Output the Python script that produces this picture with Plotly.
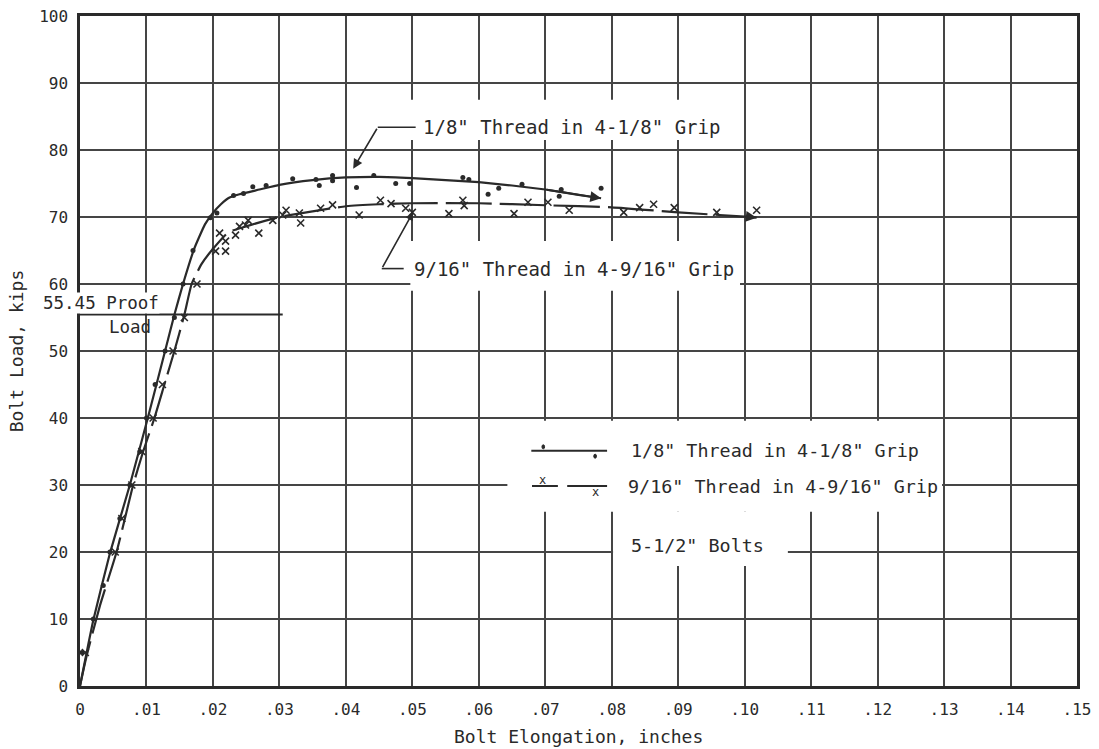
import plotly.graph_objects as go

# ---------------- data ----------------
# 1/8" Thread in 4-1/8" Grip : test points (dots)
s1_x = [0.0003, 0.002, 0.0035, 0.0045, 0.006, 0.0075, 0.009, 0.0100, 0.0113, 0.0128,
        0.0142, 0.0155, 0.0170, 0.0196, 0.0206, 0.0231, 0.0246, 0.0260, 0.0280, 0.0320,
        0.0355, 0.0360, 0.0380, 0.0380, 0.0416, 0.0442, 0.0475, 0.0496, 0.0576, 0.0585,
        0.0614, 0.0630, 0.0665, 0.0721, 0.0724, 0.0784]
s1_y = [5, 10, 15, 20, 25, 30, 35, 40, 45, 50,
        55, 60, 65, 69.9, 70.6, 73.2, 73.5, 74.5, 74.7, 75.7,
        75.6, 74.7, 76.2, 75.4, 74.4, 76.2, 75.0, 75.0, 75.9, 75.6,
        73.4, 74.3, 74.9, 73.1, 74.1, 74.3]
# faired curve
c1_x = [0, 0.001, 0.002, 0.0045, 0.0075, 0.0102, 0.0128, 0.0142, 0.0155, 0.0172,
        0.0188, 0.0200, 0.0212, 0.0225, 0.0240, 0.0270, 0.0300, 0.0350, 0.0400, 0.0450,
        0.0500, 0.0550, 0.0600, 0.0650, 0.0700, 0.0750, 0.0784]
c1_y = [0, 5, 9.8, 19.8, 30, 40, 50, 55.4, 60, 65.3,
        68.9, 70.6, 71.9, 72.9, 73.4, 74.1, 74.8, 75.5, 75.9, 76.0,
        75.8, 75.5, 75.2, 74.7, 74.1, 73.3, 72.8]

# 9/16" Thread in 4-9/16" Grip : test points (crosses)
s2_x = [0.0008, 0.0053, 0.0063, 0.0078, 0.0093, 0.0110, 0.0124, 0.0140, 0.0157, 0.0176,
        0.0204, 0.0219, 0.0210, 0.0219, 0.0234, 0.0240, 0.0249, 0.0253, 0.0269, 0.0290,
        0.0305, 0.0310, 0.0332, 0.0330, 0.0362, 0.0380, 0.0420, 0.0452, 0.0468, 0.0490,
        0.0500, 0.0555, 0.0576, 0.0578, 0.0653, 0.0674, 0.0704, 0.0736, 0.0818, 0.0842,
        0.0863, 0.0894, 0.0958, 0.1018]
s2_y = [5, 20, 25, 30, 35, 40, 45, 50, 55, 60,
        64.9, 64.9, 67.6, 66.4, 67.3, 68.6, 68.8, 69.5, 67.6, 69.5,
        70.3, 71.0, 69.1, 70.6, 71.3, 71.8, 70.3, 72.5, 72.0, 71.3,
        70.7, 70.5, 72.5, 71.7, 70.5, 72.2, 72.2, 71.0, 70.7, 71.4,
        71.9, 71.4, 70.7, 71.0]
# faired curve
c2_x = [0, 0.001, 0.003, 0.0055, 0.008, 0.0095, 0.0112, 0.0127, 0.0142, 0.0157,
        0.0168, 0.0183, 0.0198, 0.0223, 0.0250, 0.0300, 0.0350, 0.0400, 0.0450, 0.0500,
        0.0600, 0.0700, 0.0800, 0.0900, 0.1000, 0.1018]
c2_y = [0, 4.5, 12, 20, 30, 35, 40, 45, 50, 55.4,
        60, 63, 65, 67.7, 68.6, 70.0, 70.85, 71.6, 71.9, 72.05,
        72.05, 71.75, 71.45, 70.7, 70.05, 69.9]

proof_load = 55.45
proof_load_end = 0.0305

x_ticks = [i / 100 for i in range(16)]
x_ticklabels = ["0"] + ["." + f"{i:02d}" for i in range(1, 16)]
y_ticks = list(range(0, 101, 10))

label_1 = '1/8" Thread in 4-1/8" Grip'
label_2 = '9/16" Thread in 4-9/16" Grip'
bolts_label = '5-1/2" Bolts'
x_title = "Bolt Elongation, inches"
y_title = "Bolt Load, kips"

# ---------------- styling ----------------
INK = "#2a2a2a"
GRID = "#454545"
FONT = "DejaVu Sans Mono"

fig = go.Figure()

fig.add_trace(go.Scatter(x=c1_x, y=c1_y, mode="lines",
                         line=dict(color=INK, width=2.2, shape="spline", smoothing=0.4),
                         hoverinfo="skip", showlegend=False))
fig.add_trace(go.Scatter(x=s1_x, y=s1_y, mode="markers",
                         marker=dict(symbol="circle", size=5, color=INK),
                         showlegend=False))
fig.add_trace(go.Scatter(x=c2_x, y=c2_y, mode="lines",
                         line=dict(color=INK, width=2.2, dash="46px,8px", shape="spline", smoothing=0.5),
                         hoverinfo="skip", showlegend=False))
fig.add_trace(go.Scatter(x=s2_x, y=s2_y, mode="markers",
                         marker=dict(symbol="x-thin-open", size=7, color=INK,
                                     line=dict(color=INK, width=1.6)),
                         showlegend=False))

shapes = []
# white panels that interrupt the grid behind the labels
for x0, x1, y0, y1 in [(0.0475, 0.0995, 81.5, 87.5),
                       (0.0497, 0.0993, 59.0, 66.4),
                       (0.0643, 0.1297, 26.0, 39.6),
                       (0.0802, 0.1065, 17.9, 26.0)]:
    shapes.append(dict(type="rect", xref="x", yref="y", x0=x0, x1=x1, y0=y0, y1=y1,
                       fillcolor="white", line=dict(width=0), layer="between"))
# proof load line
shapes.append(dict(type="line", xref="x", yref="y", x0=0, x1=proof_load_end,
                   y0=proof_load, y1=proof_load, line=dict(color=INK, width=1.8)))
# leader elbows
shapes.append(dict(type="line", xref="x", yref="y", x0=0.0448, x1=0.0505, y0=83.4, y1=83.4,
                   line=dict(color=INK, width=1.6)))
shapes.append(dict(type="line", xref="x", yref="y", x0=0.0454, x1=0.0487, y0=62.3, y1=62.3,
                   line=dict(color=INK, width=1.6)))
# legend keys
shapes.append(dict(type="line", xref="x", yref="y", x0=0.0679, x1=0.0793, y0=35.1, y1=35.1,
                   line=dict(color=INK, width=2)))
shapes.append(dict(type="line", xref="x", yref="y", x0=0.0680, x1=0.0719, y0=29.85, y1=29.85,
                   line=dict(color=INK, width=2)))
shapes.append(dict(type="line", xref="x", yref="y", x0=0.0733, x1=0.0793, y0=29.85, y1=29.85,
                   line=dict(color=INK, width=2)))
for cx, cy in [(0.0697, 35.7), (0.0775, 34.3)]:
    shapes.append(dict(type="circle", xref="x", yref="y", x0=cx - 0.0002, x1=cx + 0.0002,
                       y0=cy - 0.3, y1=cy + 0.3, fillcolor=INK, line=dict(color=INK, width=1)))

annotations = []
# leader arrows
annotations.append(dict(x=0.0411, y=77.2, ax=0.0448, ay=83.4, xref="x", yref="y",
                        axref="x", ayref="y", showarrow=True, arrowhead=2, arrowsize=1.2,
                        arrowwidth=1.6, arrowcolor=INK, text=""))
annotations.append(dict(x=0.0501, y=70.7, ax=0.0454, ay=62.3, xref="x", yref="y",
                        axref="x", ayref="y", showarrow=True, arrowhead=2, arrowsize=1.0,
                        arrowwidth=1.6, arrowcolor=INK, text=""))
# curve end arrowheads
annotations.append(dict(x=c1_x[-1], y=c1_y[-1], ax=c1_x[-3], ay=c1_y[-3], xref="x", yref="y",
                        axref="x", ayref="y", showarrow=True, arrowhead=2, arrowsize=1.2,
                        arrowwidth=1.8, arrowcolor=INK, text="", standoff=0))
annotations.append(dict(x=c2_x[-1], y=c2_y[-1], ax=c2_x[-2] + 0.0005, ay=c2_y[-2], xref="x", yref="y",
                        axref="x", ayref="y", showarrow=True, arrowhead=2, arrowsize=1.2,
                        arrowwidth=1.8, arrowcolor=INK, text="", standoff=0))
txt = dict(color=INK, family=FONT, size=18.4)
annotations.append(dict(x=0.0513, y=83.4, xref="x", yref="y", text=label_1, showarrow=False,
                        xanchor="left", yanchor="middle", font=dict(color=INK, family=FONT, size=19)))
annotations.append(dict(x=0.0500, y=62.3, xref="x", yref="y", text=label_2, showarrow=False,
                        xanchor="left", yanchor="middle", font=dict(color=INK, family=FONT, size=19)))
annotations.append(dict(x=0.0826, y=35.1, xref="x", yref="y", text=label_1, showarrow=False,
                        xanchor="left", yanchor="middle", font=txt))
annotations.append(dict(x=0.0822, y=29.8, xref="x", yref="y", text=label_2, showarrow=False,
                        xanchor="left", yanchor="middle", font=txt))
annotations.append(dict(x=0.0826, y=21.0, xref="x", yref="y", text=bolts_label, showarrow=False,
                        xanchor="left", yanchor="middle", font=txt))
# legend crosses
for cx, cy in [(0.0696, 30.8), (0.0776, 28.9)]:
    annotations.append(dict(x=cx, y=cy, xref="x", yref="y", text="x", showarrow=False,
                            font=dict(color=INK, family=FONT, size=12)))
# proof load label (starts left of the y axis, masking it)
annotations.append(dict(x=-0.038, y=57.1, xref="paper", yref="y", text="55.45 Proof", showarrow=False,
                        xanchor="left", yanchor="middle", font=dict(color=INK, family=FONT, size=17.5),
                        bgcolor="white", borderpad=0))
annotations.append(dict(x=0.0041, y=53.6, xref="x", yref="y", text="Load", showarrow=False,
                        xanchor="left", yanchor="middle", font=dict(color=INK, family=FONT, size=17.5)))
# axis titles
annotations.append(dict(x=0.5, y=-0.076, xref="paper", yref="paper", text=x_title, showarrow=False,
                        xanchor="center", yanchor="middle", font=dict(color=INK, family=FONT, size=18)))

fig.update_layout(
    width=1099, height=749,
    margin=dict(l=80, r=22, t=16, b=63),
    paper_bgcolor="white", plot_bgcolor="white",
    font=dict(family=FONT, color=INK, size=16),
    shapes=shapes, annotations=annotations,
    showlegend=False,
)
fig.update_xaxes(range=[0, 0.15], tickvals=x_ticks, ticktext=x_ticklabels,
                 showgrid=True, gridcolor=GRID, gridwidth=1.6,
                 showline=True, linecolor=INK, linewidth=2.5, mirror=True,
                 ticks="", ticklabelstandoff=7, zeroline=False, automargin=False,
                 tickfont=dict(family=FONT, size=16, color=INK))
fig.update_yaxes(range=[0, 100], tickvals=y_ticks,
                 showgrid=True, gridcolor=GRID, gridwidth=1.6,
                 showline=True, linecolor=INK, linewidth=2.5, mirror=True,
                 ticks="", ticklabelstandoff=6, zeroline=False, automargin=False,
                 tickfont=dict(family=FONT, size=16, color=INK),
                 title=dict(text=y_title, standoff=11,
                            font=dict(family=FONT, size=18, color=INK)))

fig.write_html("out.html")
